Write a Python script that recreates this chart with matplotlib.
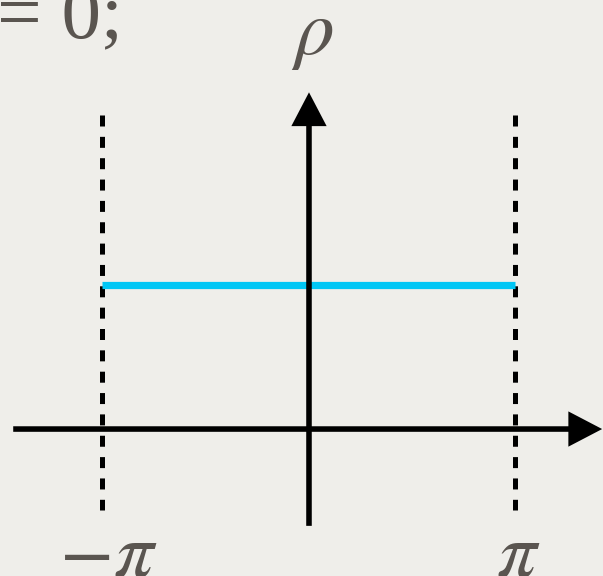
import numpy as np
import matplotlib
matplotlib.use("Agg")
import matplotlib.pyplot as plt
from matplotlib.patches import FancyArrowPatch

plt.rcParams["mathtext.fontset"] = "stix"

# period boundaries of the angle and the constant density level
theta_bounds = [-np.pi, np.pi]
rho_level = 1.0
tick_labels = [r"$-\pi$", r"$\pi$"]
header_text = "= 0;"
y_label = r"$\rho$"

# axis extents (data units)
x_axis_range = (-4.50, 4.46)
y_axis_range = (-0.67, 2.33)
dash_range = (2.17, -0.56)

bg = "#efeeea"
ink = "#5a5550"
cyan = "#00c6f5"

W, H, DPI = 603, 576, 100
fig = plt.figure(figsize=(W / DPI, H / DPI), dpi=DPI, facecolor=bg)
ax = fig.add_axes([0, 0, 1, 1])
ax.set_facecolor(bg)
ax.set_xlim(-4.701, 4.473)
ax.set_ylim(-1.017, 2.969)
ax.axis("off")

# dotted period boundaries
for t in theta_bounds:
    ax.plot([t, t], dash_range, color="black", lw=3.6,
            dashes=(2.2, 2.07), solid_capstyle="butt", dash_capstyle="butt",
            zorder=2)

# constant density line
ax.plot(theta_bounds, [rho_level, rho_level], color=cyan, lw=5.2,
        solid_capstyle="butt", zorder=3)

# axes with arrow heads
arrow_kw = dict(arrowstyle="-|>,head_length=18,head_width=9.4",
                mutation_scale=1, lw=4.0, color="black",
                shrinkA=0, shrinkB=0, joinstyle="miter", capstyle="butt",
                zorder=4)
ax.add_patch(FancyArrowPatch((x_axis_range[0], 0), (x_axis_range[1], 0), **arrow_kw))
ax.add_patch(FancyArrowPatch((0, y_axis_range[0]), (0, y_axis_range[1]), **arrow_kw))

# tick labels at the boundaries
offsets = [5.5, 2.5]
for t, lab, off in zip(theta_bounds, tick_labels, offsets):
    ax.annotate(lab, xy=(t, 0), xycoords=("data", "figure pixels"),
                xytext=(off * 0.72, 0), textcoords="offset points",
                ha="center", va="baseline", fontsize=57, color=ink)

# axis label
fig.text(312 / W, 1 - 34 / H, y_label, ha="center", va="center",
         fontsize=57, color=ink)

# trailing equation fragment
fig.text(-3 / W, 1 - 38 / H, header_text, ha="left", va="baseline",
         fontsize=57, color=ink, family="Liberation Serif")

fig.savefig("out.png", dpi=DPI, facecolor=bg)
